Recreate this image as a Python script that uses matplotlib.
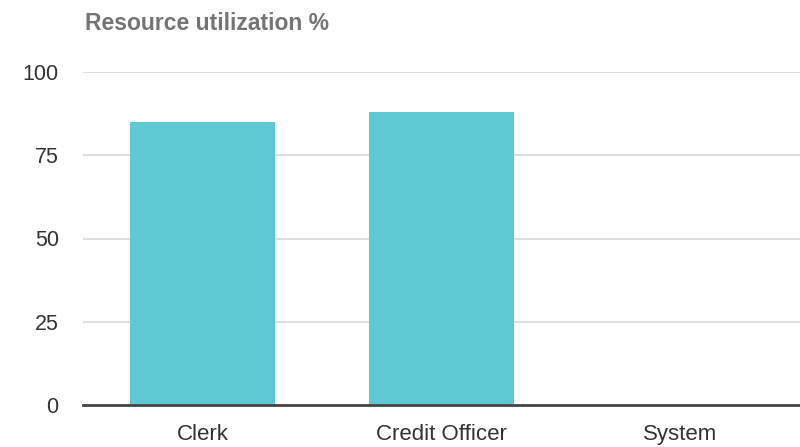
import matplotlib
matplotlib.use("Agg")
import matplotlib.pyplot as plt

categories = ["Clerk", "Credit Officer", "System"]
utilization = [85, 88, 0]
y_ticks = [0, 25, 50, 75, 100]

plt.rcParams['font.family'] = ['Liberation Sans', 'DejaVu Sans']

fig = plt.figure(figsize=(8.0, 4.47), dpi=100)
ax = fig.add_axes([83 / 800, 1 - 405 / 447, 717 / 800, 333 / 447])

x = list(range(len(categories)))
ax.bar(x, utilization, width=0.607, color="#5ec9d4", zorder=2)

ax.set_xlim(-0.5, len(categories) - 0.5)
ax.set_ylim(0, 100)
ax.set_yticks(y_ticks)
ax.set_xticks(x)
ax.set_xticklabels(categories)

ax.yaxis.grid(True, color="#d9d9d9", linewidth=1.2, zorder=0)
ax.set_axisbelow(True)
for side in ("top", "right", "left"):
    ax.spines[side].set_visible(False)
ax.spines["bottom"].set_color("#444444")
ax.spines["bottom"].set_linewidth(2)
ax.spines["bottom"].set_zorder(3)

ax.tick_params(axis="both", length=0, labelcolor="#333333")
ax.tick_params(axis="y", pad=17.5, labelsize=15.5)
ax.tick_params(axis="x", pad=14, labelsize=16)

fig.text(85 / 800, 1 - 23 / 447, "Resource utilization %", fontsize=16.5,
         fontweight="bold", color="#747474", va="center", ha="left")

fig.savefig("out.png", dpi=100, facecolor="white")
